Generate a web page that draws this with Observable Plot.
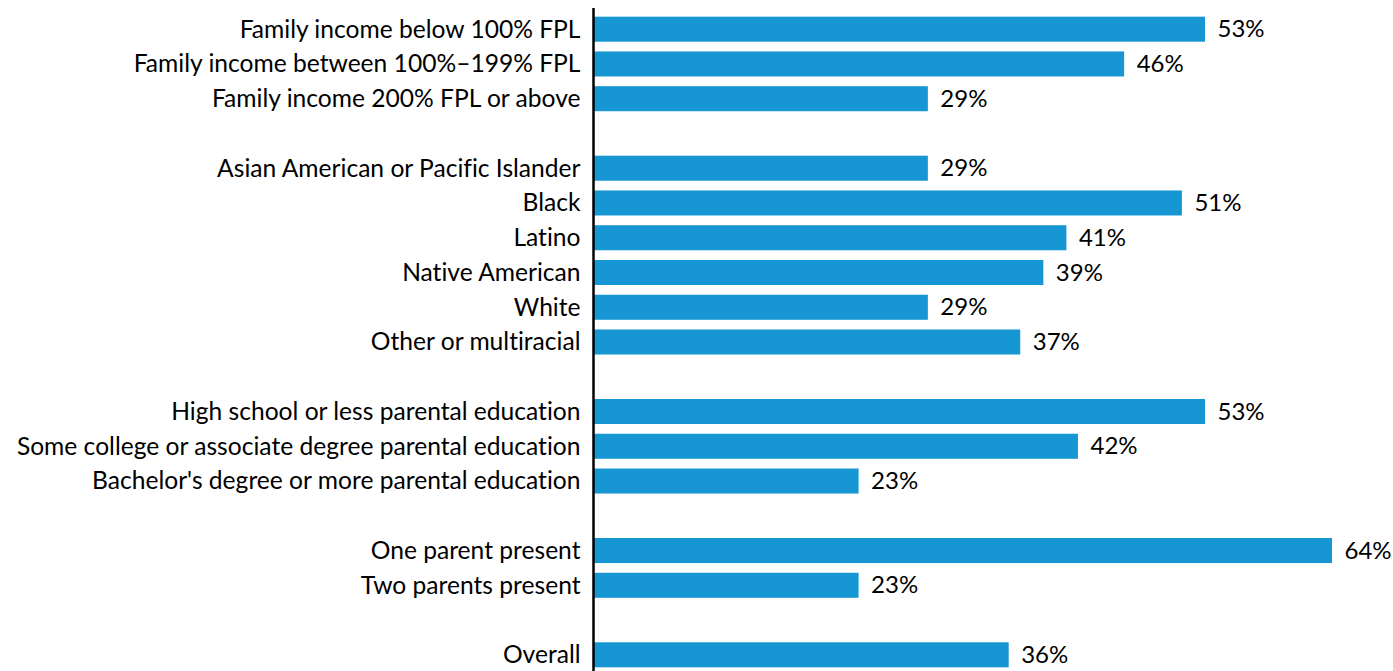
<!DOCTYPE html>
<html>
<head>
<meta charset="utf-8">
<script src="https://cdn.jsdelivr.net/npm/d3@7"></script>
<script src="https://cdn.jsdelivr.net/npm/@observablehq/plot@0.6"></script>
<style>
  html, body { margin: 0; padding: 0; background: #fff; }
  #chart { width: 1393px; height: 671px; overflow: hidden; }
  #chart svg text { font-variant-ligatures: none; font-feature-settings: "liga" 0, "clig" 0; }
</style>
</head>
<body>
<div id="chart"></div>
<script>
// Categories in display order; gap keys create the blank rows between groups
const categories = [
  "Family income below 100% FPL",
  "Family income between 100%–199% FPL",
  "Family income 200% FPL or above",
  "gap1",
  "Asian American or Pacific Islander",
  "Black",
  "Latino",
  "Native American",
  "White",
  "Other or multiracial",
  "gap2",
  "High school or less parental education",
  "Some college or associate degree parental education",
  "Bachelor's degree or more parental education",
  "gap3",
  "One parent present",
  "Two parents present",
  "gap4",
  "Overall"
];
const barCategories = categories.filter(c => !c.startsWith("gap"));
const values = [53, 46, 29, 29, 51, 41, 39, 29, 37, 53, 42, 23, 64, 23, 36];

const data = barCategories.map((c, i) => ({category: c, value: values[i]}));

const blue = "#1696d2";
const font = "Lato, 'Noto Sans', sans-serif";
const fs = 24.6;

const chart = Plot.plot({
  width: 1393,
  height: 671,
  marginLeft: 593,
  marginRight: 0,
  marginTop: 8,
  marginBottom: 0,
  style: {fontFamily: font, fontSize: fs + "px", color: "#000", background: "#fff", overflow: "visible"},
  x: {domain: [0, 64], range: [593, 1332], axis: null},
  y: {domain: categories, range: [8, 676], paddingInner: 0.28, paddingOuter: 0.25, round: false, label: null},
  marks: [
    Plot.barX(data, {x: "value", y: "category", fill: blue}),
    Plot.text(data, {
      x: "value", y: "category",
      text: d => d.value + "%",
      textAnchor: "start", dx: 12, fontSize: 24, fill: "#000"
    }),
    Plot.axisY({
      tickSize: 0, tickPadding: 13, fontSize: fs, label: null,
      tickFormat: d => d.startsWith("gap") ? "" : d
    }),
    Plot.ruleX([0], {stroke: "#000", strokeWidth: 2.5})
  ]
});
document.getElementById("chart").appendChild(chart);
</script>
</body>
</html>
